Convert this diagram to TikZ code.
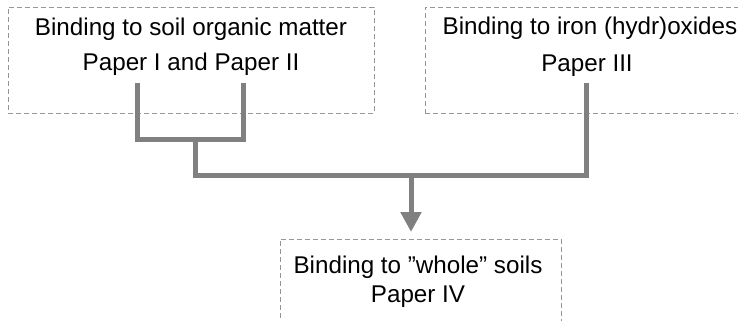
\documentclass[tikz,border=0pt]{standalone}
\usepackage{fontspec}
\setmainfont{Liberation Sans}
\usetikzlibrary{arrows.meta}
\definecolor{linkgray}{RGB}{128,128,128}
\definecolor{framegray}{RGB}{150,150,150}
\begin{document}
\begin{tikzpicture}[x=1bp,y=-1bp,
  frame/.style={draw=framegray, line width=0.8bp, dash pattern=on 5bp off 3bp,
    rectangle, inner sep=0pt},
  line/.style={anchor=base, inner sep=0pt, font=\fontsize{24.2bp}{29bp}\selectfont},
  link/.style={draw=linkgray, line width=5bp, line join=miter},
]
\clip (0,0) rectangle (738,320);

% dashed frames
\node[frame, minimum width=366bp, minimum height=106bp] (som) at (191,60) {};
\node[frame, minimum width=340bp, minimum height=106bp] (fe) at (595,60) {};
\node[frame, minimum width=281bp, minimum height=100bp] (whole) at (420.5,289) {};

% captions
\node[line] (somA) at (191,35) {Binding to soil organic matter};
\node[line] (somB) at (191,70) {Paper I and Paper II};
\node[line] (feA) at (590,34) {Binding to iron (hydr)oxides};
\node[line] (feB) at (587,71) {Paper III};
\node[line] (wholeA) at (418,273) {Binding to ”whole” soils};
\node[line] (wholeB) at (418,302) {Paper IV};

% connector ends and junctions
\coordinate (s1) at (137.5,83);
\coordinate (s2) at (243,83);
\coordinate (s3) at (586,83);
\coordinate (j1) at (195.5,139);
\coordinate (j2) at (411,175);
\coordinate (tip) at (411,232);

\draw[link] (s1) |- (j1) -| (s2);
\draw[link] (j1) |- (j2) -| (s3);
\draw[link, -{Triangle[width=20bp,length=20bp]}] (j2) -- (tip);
\end{tikzpicture}
\end{document}
